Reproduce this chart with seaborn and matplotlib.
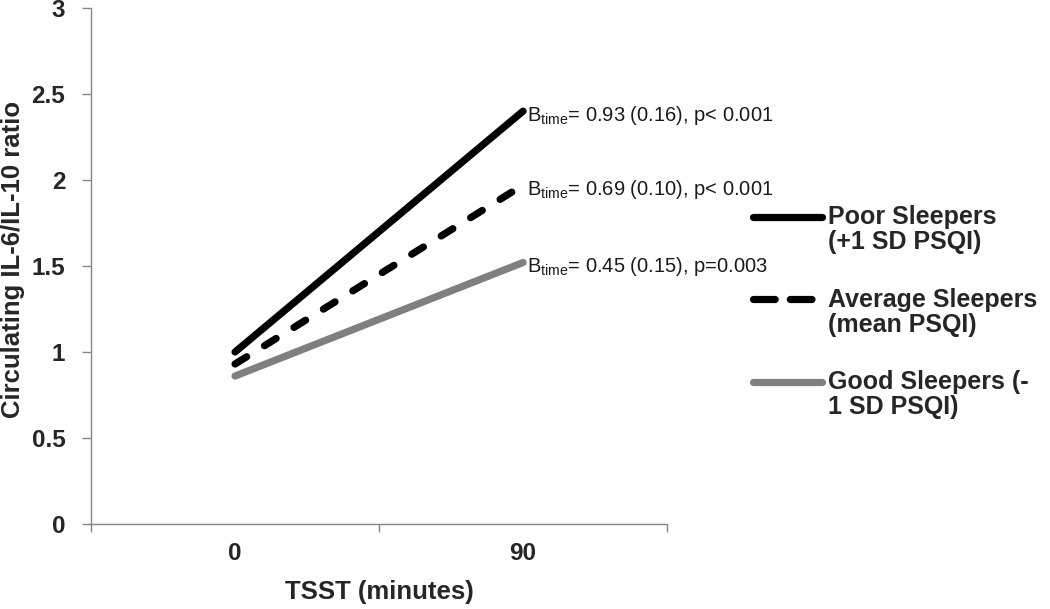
import matplotlib
matplotlib.use("Agg")
import matplotlib.pyplot as plt
import seaborn as sns
import pandas as pd
from matplotlib.lines import Line2D
from matplotlib.legend_handler import HandlerLine2D

time_points = ["0", "90"]
groups = ["Poor Sleepers\n(+1 SD PSQI)", "Average Sleepers\n(mean PSQI)", "Good Sleepers (-\n1 SD PSQI)"]
poor = [1.00, 2.40]
average = [0.93, 1.97]
good = [0.86, 1.52]
annotations = ["0.93 (0.16), p< 0.001", "0.69 (0.10), p< 0.001", "0.45 (0.15), p=0.003"]
y_ticks = [0, 0.5, 1, 1.5, 2, 2.5, 3]
y_tick_labels = ["0", "0.5", "1", "1.5", "2", "2.5", "3"]

sns.set_theme(style="white")
plt.rcParams["font.family"] = ["Liberation Sans", "DejaVu Sans"]
plt.rcParams["mathtext.fontset"] = "custom"
plt.rcParams["mathtext.rm"] = "Liberation Sans"
plt.rcParams["mathtext.it"] = "Liberation Sans"

rows = []
for g, vals in zip(groups, [poor, average, good]):
    for t, v in zip(time_points, vals):
        rows.append({"time": t, "value": v, "group": g})
df = pd.DataFrame(rows)

fig = plt.figure(figsize=(10.5, 6.09), dpi=100)
ax = fig.add_axes([0.0867, 0.1396, 0.5486, 0.8474])

LW = 5.2
palette = {groups[0]: "#000000", groups[1]: "#000000", groups[2]: "#7f7f7f"}
dashes = {groups[0]: "", groups[1]: (1.9, 2.9), groups[2]: ""}
sns.lineplot(data=df, x="time", y="value", hue="group", style="group",
             palette=palette, dashes=dashes, linewidth=LW, ax=ax,
             sort=False, legend=True)
for line in ax.lines:
    line.set_solid_capstyle("round")
    line.set_dash_capstyle("round")

ax.set_xlim(-0.5, 1.5)
ax.set_ylim(0, 3)
ax.set_yticks(y_ticks)
ax.set_yticklabels(y_tick_labels, fontsize=17.5, fontweight="bold")
ax.set_xticks([0, 1])
ax.set_xticklabels(time_points, fontsize=17.5, fontweight="bold")
ax.set_xticks([-0.5, 0.5, 1.5], minor=True)
ax.tick_params(axis="x", which="major", length=0, pad=13)
ax.tick_params(axis="x", which="minor", length=6, width=1, color="#868686", direction="out", bottom=True)
ax.tick_params(axis="y", which="major", length=6.5, width=1, color="#868686", direction="out", left=True, pad=12)

for side in ["top", "right"]:
    ax.spines[side].set_visible(False)
for side in ["left", "bottom"]:
    ax.spines[side].set_color("#868686")
    ax.spines[side].set_linewidth(1)

ax.set_xlabel("TSST (minutes)", fontsize=18.5, fontweight="bold")
ax.xaxis.set_label_coords(0.5, -0.108)
ax.set_ylabel("Circulating IL-6/IL-10 ratio", fontsize=18.5, fontweight="bold")
ax.yaxis.set_label_coords(-0.115, 0.513)

for vals, txt in zip([poor, average, good], annotations):
    ax.annotate(r"B$_{\mathregular{time}}$= " + txt, xy=(1.0, vals[1]),
                xytext=(3, -3), textcoords="offset points", fontsize=14.5,
                color="#1a1a1a", ha="left", va="center")


class FirstLineHandler(HandlerLine2D):
    def create_artists(self, legend, orig_handle, xdescent, ydescent,
                       width, height, fontsize, trans):
        artists = super().create_artists(legend, orig_handle, xdescent, ydescent,
                                         width, height, fontsize, trans)
        for a in artists:
            y = a.get_ydata()
            a.set_ydata([v + 0.56 * fontsize for v in y])
        return artists


handles, labels = ax.get_legend_handles_labels()
ax.legend_.remove()
leg = fig.legend(handles, labels, loc="center left", bbox_to_anchor=(0.7054, 0.487),
                 frameon=False, handlelength=2.75, handletextpad=0.25, labelspacing=1.34,
                 borderpad=0, prop={"size": 18, "weight": "bold"},
                 handler_map={Line2D: FirstLineHandler()})
for t in leg.get_texts():
    t.set_linespacing(1.05)
for i, h in enumerate(leg.get_lines()):
    h.set_linewidth(LW)
    h.set_solid_capstyle("round")
    h.set_dash_capstyle("round")
    if i == 1:
        h.set_dashes((3.0, 2.1))

fig.savefig("out.png", dpi=100)
